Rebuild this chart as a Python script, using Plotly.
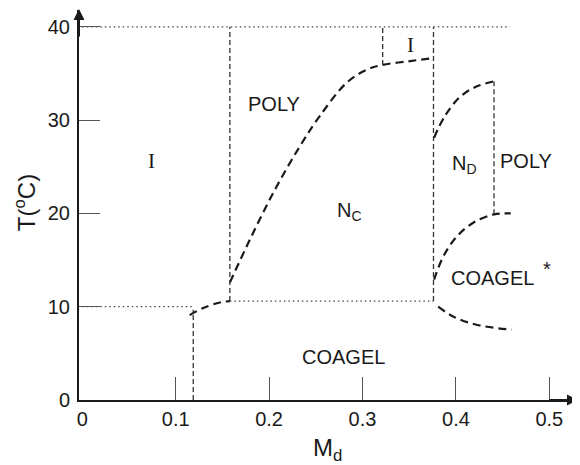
import plotly.graph_objects as go

# ---- data ----
x_tick_vals = [0, 0.1, 0.2, 0.3, 0.4, 0.5]
x_tick_text = ["0", "0.1", "0.2", "0.3", "0.4", "0.5"]
y_tick_vals = [0, 10, 20, 30, 40]
y_tick_text = ["0", "10", "20", "30", "40"]

# dashed phase-boundary curves
nc_curve_x = [0.158, 0.1795, 0.206, 0.233, 0.254, 0.283, 0.3045, 0.3206, 0.349, 0.376]
nc_curve_y = [12.6, 17.2, 22.5, 27.2, 30.4, 34.0, 35.4, 35.9, 36.3, 36.65]
low_curve_x = [0.115, 0.1295, 0.1474, 0.158]
low_curve_y = [9.1, 9.86, 10.45, 10.6]
nd_curve_x = [0.3766, 0.388, 0.4045, 0.422, 0.4408]
nd_curve_y = [28.1, 30.4, 32.5, 33.6, 34.15]
coag_top_x = [0.3766, 0.3866, 0.4008, 0.4186, 0.4408, 0.4587]
coag_top_y = [12.9, 15.4, 17.5, 19.0, 19.9, 20.0]
coag_bot_x = [0.381, 0.397, 0.422, 0.4597]
coag_bot_y = [10.0, 8.96, 8.07, 7.53]

# straight dashed vertical boundaries: (x, y_start, y_end)
vert_x = [0.1188, 0.158, 0.3216, 0.376, 0.4408]
vert_y0 = [0, 10.6, 35.9, 10.6, 19.9]
vert_y1 = [9.67, 40, 40, 40, 34.15]

# dotted horizontal boundaries: (y, x_start, x_end)
dot_y = [40, 10, 10.6]
dot_x0 = [0, 0, 0.158]
dot_x1 = [0.458, 0.1188, 0.376]

# region labels
label_text = ["I", "POLY", "I", "N<sub>C</sub>", "N<sub>D</sub>", "POLY",
              "COAGEL", "*", "COAGEL"]
label_x = [0.0745, 0.205, 0.351, 0.2866, 0.409, 0.475, 0.439, 0.4975, 0.2795]
label_y = [25.6, 31.75, 38.1, 20.2, 25.2, 25.6, 13.1, 14.0, 4.6]
label_serif = [True, False, True, False, False, False, False, False, False]

X_RANGE = [-0.0035, 0.5307]
Y_RANGE = [0, 41.8]

fig = go.Figure()

curve_style = dict(color="#1a1a1a", width=2.2, dash="8px,5px")
vert_style = dict(color="#333333", width=1.3, dash="5px,3px")
dot_style = dict(color="#444444", width=1.3, dash="1.5px,3px")

for cx, cy in [(nc_curve_x, nc_curve_y), (low_curve_x, low_curve_y),
               (nd_curve_x, nd_curve_y), (coag_top_x, coag_top_y),
               (coag_bot_x, coag_bot_y)]:
    fig.add_trace(go.Scatter(x=cx, y=cy, mode="lines", line=curve_style,
                             line_shape="spline", hoverinfo="skip",
                             showlegend=False))

for vx, a, b in zip(vert_x, vert_y0, vert_y1):
    fig.add_trace(go.Scatter(x=[vx, vx], y=[a, b], mode="lines", line=vert_style,
                             hoverinfo="skip", showlegend=False))

for dy, a, b in zip(dot_y, dot_x0, dot_x1):
    fig.add_trace(go.Scatter(x=[a, b], y=[dy, dy], mode="lines", line=dot_style,
                             hoverinfo="skip", showlegend=False))

annotations = []
for t, lx, ly, serif in zip(label_text, label_x, label_y, label_serif):
    annotations.append(dict(
        x=lx, y=ly, xref="x", yref="y", text=t, showarrow=False,
        font=dict(family="Liberation Serif" if serif else "Liberation Sans, Arial",
                  size=21 if serif else 20, color="#1a1a1a"),
        xanchor="center", yanchor="middle"))

# axis arrows
annotations.append(dict(x=0, y=1.005, xref="paper", yref="paper", ax=0, ay=30,
                        axref="pixel", ayref="pixel", showarrow=True, arrowhead=2,
                        arrowsize=1.1, arrowwidth=2, arrowcolor="#1a1a1a", text=""))
annotations.append(dict(x=1.0, y=0, xref="paper", yref="paper", ax=-30, ay=0,
                        axref="pixel", ayref="pixel", showarrow=True, arrowhead=2,
                        arrowsize=1.1, arrowwidth=2, arrowcolor="#1a1a1a", text=""))

# axis titles
annotations.append(dict(x=0.497, y=-0.126, xref="paper", yref="paper",
                        text="M<sub>d</sub>", showarrow=False,
                        font=dict(family="Liberation Sans, Arial", size=24, color="#1a1a1a"),
                        xanchor="center", yanchor="middle"))
annotations.append(dict(x=-0.108, y=0.505, xref="paper", yref="paper",
                        text="T(<sup>o</sup>C)", showarrow=False, textangle=-90,
                        font=dict(family="Liberation Sans, Arial", size=24, color="#1a1a1a"),
                        xanchor="center", yanchor="middle"))

# the page body has an 8px default margin: size the figure so the plot
# area lands where it is in the reference (left 79, top 10, right 578, bottom 400)
fig.update_layout(
    width=572, height=457,
    margin=dict(l=71, r=2, t=2, b=65, autoexpand=False),
    paper_bgcolor="white", plot_bgcolor="white",
    annotations=annotations,
    xaxis=dict(range=X_RANGE, tickvals=x_tick_vals, ticktext=x_tick_text,
               ticks="", showgrid=False, zeroline=False, automargin=False,
               showline=True, linecolor="#1a1a1a", linewidth=2,
               tickfont=dict(family="Liberation Sans, Arial", size=20, color="#1a1a1a"),
               minor=dict(tickvals=x_tick_vals[1:], ticks="inside", ticklen=23,
                          tickwidth=1, tickcolor="#555555", showgrid=False),
               fixedrange=True),
    yaxis=dict(range=Y_RANGE, tickvals=y_tick_vals, ticktext=y_tick_text,
               ticks="inside", ticklen=21, tickwidth=1, tickcolor="#555555",
               showgrid=False, zeroline=False, automargin=False,
               showline=True, linecolor="#1a1a1a", linewidth=2,
               tickfont=dict(family="Liberation Sans, Arial", size=20, color="#1a1a1a"),
               ticklabelstandoff=3,
               fixedrange=True),
)

fig.write_html("out.html")
